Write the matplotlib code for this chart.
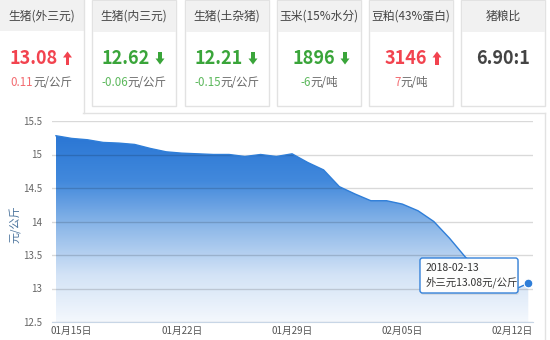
import matplotlib
matplotlib.use("Agg")
import matplotlib.pyplot as plt
import numpy as np
import pandas as pd
from matplotlib.patches import Rectangle, Polygon, FancyBboxPatch
from matplotlib.colors import LinearSegmentedColormap

plt.rcParams['font.family'] = ['Noto Sans CJK SC', 'DejaVu Sans']

# card data
titles = ['生猪(外三元)', '生猪(内三元)', '生猪(土杂猪)', '玉米(15%水分)', '豆粕(43%蛋白)', '猪粮比']
values = ['13.08', '12.62', '12.21', '1896', '3146', '6.90:1']
changes = ['0.11', '-0.06', '-0.15', '-6', '7', '']
units = ['元/公斤', '元/公斤', '元/公斤', '元/吨', '元/吨', '']
trend = ['up', 'down', 'down', 'down', 'up', '']

# chart data
dates = pd.date_range('2018-01-14', '2018-02-13', freq='D')
prices = [15.28, 15.24, 15.22, 15.18, 15.17, 15.15, 15.09, 15.04, 15.02, 15.01,
          15.00, 15.00, 14.97, 15.00, 14.97, 15.01, 14.88, 14.77,
          14.52, 14.41, 14.31, 14.31, 14.26, 14.16, 14.00, 13.75, 13.47, 13.25,
          13.05, 12.97, 13.08]
tick_dates = ['2018-01-15', '2018-01-22', '2018-01-29', '2018-02-05', '2018-02-12']
tick_labels = ['01月15日', '01月22日', '01月29日', '02月05日', '02月12日']
y_ticks = [12.5, 13, 13.5, 14, 14.5, 15, 15.5]
y_tick_labels = ['12.5', '13', '13.5', '14', '14.5', '15', '15.5']

RED = '#f2434f'
RED_L = '#f36b70'
GREEN = '#3aa53a'
GREEN_L = '#5cb85c'
BLUE = '#2f7ed8'
GRAY_T = '#444444'
BORDER = '#e2e2e2'

W, H = 550, 340
fig = plt.figure(figsize=(W / 100, H / 100), dpi=100)
fig.patch.set_facecolor('white')

# ---- chart axes ----
ax = fig.add_axes([52 / W, (H - 322) / H, 481 / W, 201 / H])
ax.set_facecolor('white')
x = (dates - dates[0]).days.values.astype(float)
y = np.array(prices)
ax.set_xlim(-0.25, 30.3)
ax.set_ylim(12.5, 15.5)

cmap = LinearSegmentedColormap.from_list('g', ['#f4f8fd', '#d3e3f6', '#8fb9e9', '#4289dc', '#2a76d4'])
grad = np.linspace(0, 1, 256).reshape(-1, 1)
poly = ax.fill_between(x, y, 12.5, color='none', lw=0)
img = ax.imshow(grad, cmap=cmap, aspect='auto', origin='lower',
                extent=[x[0], x[-1], 12.5, 15.3], zorder=1)
clip = Polygon(poly.get_paths()[0].vertices, closed=True, transform=ax.transData,
               facecolor='none', edgecolor='none')
ax.add_patch(clip)
img.set_clip_path(clip)
ax.plot(x, y, color=BLUE, lw=1, zorder=3)
ax.scatter([x[-1]], [y[-1]], s=40, color=BLUE, edgecolor='white', lw=0.8, zorder=4)

ax.set_yticks(y_ticks)
ax.set_yticklabels(y_tick_labels)
ax.set_xticks((pd.to_datetime(tick_dates) - dates[0]).days.values)
ax.set_xticklabels(tick_labels)
ax.tick_params(axis='y', length=0, pad=7, labelsize=7, labelcolor='#666666')
ax.tick_params(axis='x', length=0, pad=3, labelsize=7, labelcolor='#555555')
ax.grid(axis='y', color='black', alpha=0.15, lw=1, zorder=2)
ax.set_axisbelow(False)
for s in ['top', 'right', 'left']:
    ax.spines[s].set_visible(False)
ax.spines['bottom'].set_color('#c8d6e6')
ax.spines['bottom'].set_zorder(3)

# ---- overlay in pixel coords ----
ov = fig.add_axes([0, 0, 1, 1], zorder=5)
ov.set_xlim(0, W)
ov.set_ylim(H, 0)
ov.axis('off')
ov.patch.set_alpha(0)

ov.text(15, 224, '元/公斤', rotation=90, ha='center', va='center',
        fontsize=8, color='#4d759e')

# panel border
ov.plot([83, 545], [113, 113], color=BORDER, lw=1)
ov.plot([545, 545], [113, 340], color=BORDER, lw=1)

cards = [(-1, 84), (92, 176), (185, 269), (277, 361), (369, 453), (461, 545)]
renderer = fig.canvas.get_renderer()


def arrow(cx, cy, up, color):
    # y axis of the overlay points down
    if up:
        head = [(cx - 4.5, cy - 0.5), (cx + 4.5, cy - 0.5), (cx, cy - 6.5)]
        shaft = (cx - 1.6, cy - 1)
    else:
        head = [(cx - 4.5, cy + 0.5), (cx + 4.5, cy + 0.5), (cx, cy + 6.5)]
        shaft = (cx - 1.6, cy - 6.5)
    ov.add_patch(Polygon(head, closed=True, color=color, lw=0))
    ov.add_patch(Rectangle(shaft, 3.2, 7.5, color=color, lw=0))


for i, (x0, x1) in enumerate(cards):
    cx = (x0 + x1) / 2
    if i == 0:
        ov.add_patch(Rectangle((x0, 0), x1 - x0, 31, facecolor='#f1f1f1', edgecolor='none'))
        ov.plot([x1, x1], [0, 113], color=BORDER, lw=1)
    else:
        ov.add_patch(Rectangle((x0, 0), x1 - x0, 106, facecolor='white', edgecolor=BORDER, lw=1))
        ov.add_patch(Rectangle((x0 + 0.5, 0.5), x1 - x0 - 1, 31, facecolor='#f1f1f1', edgecolor='none'))
    ov.text(cx, 16, titles[i], ha='center', va='center', fontsize=8.5, color=GRAY_T)

    if trend[i] == '':
        ov.text(cx, 58, values[i], ha='center', va='center', fontsize=13,
                fontweight='bold', color=GRAY_T)
        continue
    col = RED if trend[i] == 'up' else GREEN
    col_l = RED_L if trend[i] == 'up' else GREEN_L
    ov.text(cx + 16, 58, values[i], ha='right', va='center', fontsize=13,
            fontweight='bold', color=col)
    arrow(cx + 26, 58, trend[i] == 'up', col)

    tn = ov.text(0, 82, changes[i], ha='right', va='center', fontsize=8.3, color=col_l)
    tu = ov.text(0, 82, units[i], ha='left', va='center', fontsize=8.3, color='#666666')
    wn = tn.get_window_extent(renderer).width
    wu = tu.get_window_extent(renderer).width
    left = cx - (wn + wu) / 2
    tn.set_x(left + wn)
    tu.set_x(left + wn)

# tooltip
ov.add_patch(FancyBboxPatch((421, 260), 98, 35, boxstyle='round,pad=0,rounding_size=2.5',
                            facecolor='#bbbbbb', edgecolor='none', alpha=0.35))
ov.add_patch(FancyBboxPatch((420, 258), 98, 35, boxstyle='round,pad=0,rounding_size=2.5',
                            facecolor='white', edgecolor=BLUE, lw=1, alpha=0.97))
ov.text(426, 268, '2018-02-13', ha='left', va='center', fontsize=7.5, color='#333333')
ov.text(426, 282, '外三元13.08元/公斤', ha='left', va='center', fontsize=7.5, color='#333333')

fig.savefig('out.png', dpi=100)
